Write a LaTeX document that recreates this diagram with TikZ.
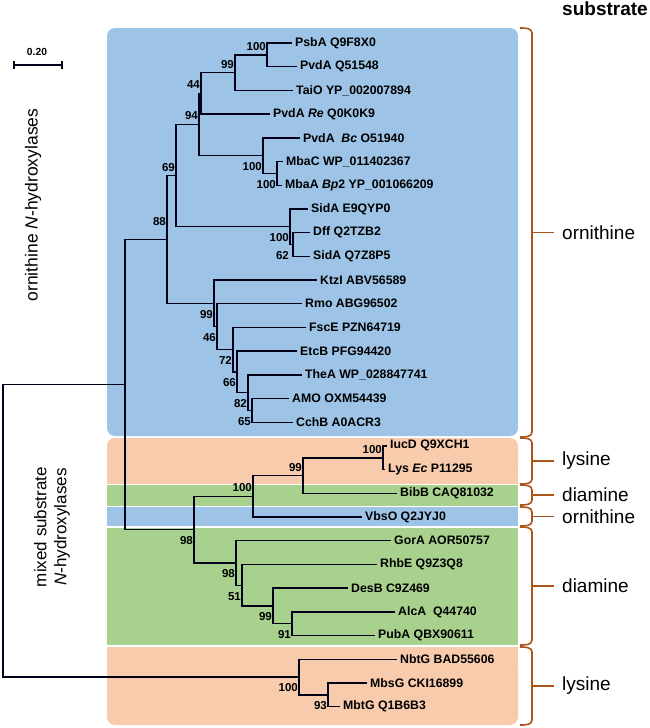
\documentclass[tikz,border=0pt]{standalone}
\usepackage{fontspec}
\setmainfont{Liberation Sans}
\usepackage{tikz}
\usetikzlibrary{positioning}

\definecolor{ornblue}{RGB}{157,195,230}
\definecolor{lyspeach}{RGB}{248,203,173}
\definecolor{diagreen}{RGB}{169,209,142}
\definecolor{bracebrown}{RGB}{172,84,26}

\newcommand{\subbrace}[4]{%
	\draw[brc] (520,#1) to[out=0,in=90] (532,#1+5) -- (532,#2-5) to[out=-90,in=0] (520,#2);
	\node[subst] (#3) at (554,{(#1+#2)/2}) {#4};
	\draw[brc] (532,{(#1+#2)/2}) -- (#3.west);
}

\begin{document}
\begin{tikzpicture}[x=1pt,y=-1pt,
		taxon/.style={anchor=west,inner xsep=3pt,inner ysep=0pt,font=\fontsize{12.3}{14}\selectfont\bfseries},
		bsup/.style={anchor=east,inner sep=1pt,yshift=8.5pt,font=\fontsize{11.5}{13}\selectfont\bfseries},
		bsdn/.style={anchor=east,inner sep=1pt,yshift=-11pt,font=\fontsize{11.5}{13}\selectfont\bfseries},
		treeline/.style={draw=black!90!blue,line width=1.4pt},
		subst/.style={anchor=west,inner xsep=8pt,inner ysep=0pt,font=\fontsize{19}{22}\selectfont},
		brc/.style={draw=bracebrown,line width=1.6pt}]
	\useasboundingbox (0,0) rectangle (649,728);

	\fill[ornblue,rounded corners=8pt] (107,28) rectangle (518,436);
	\fill[lyspeach,rounded corners=8pt] (107,438) rectangle (518,475);
	\fill[lyspeach] (107,455) rectangle (518,484);
	\fill[diagreen] (107,485.3) rectangle (518,505.5);
	\fill[ornblue] (107,507) rectangle (518,526);
	\fill[diagreen] (107,527.5) rectangle (518,645);
	\fill[lyspeach] (107,646.5) rectangle (518,690);
	\fill[lyspeach,rounded corners=8pt] (107,660) rectangle (518,725);

	\node[taxon] (psb) at (292,43) {PsbA Q9F8X0};
	\node[taxon] (pvd) at (297,66.7) {PvdA Q51548};
	\node[taxon] (tai) at (293,90.4) {TaiO YP\_002007894};
	\node[taxon] (pvdre) at (270,114.1) {PvdA \textit{Re} Q0K0K9};
	\node[taxon] (pvdbc) at (300,137.8) {PvdA\ \ \textit{Bc} O51940};
	\node[taxon] (mbac) at (283,161.5) {MbaC WP\_011402367};
	\node[taxon] (mbaa) at (282,185.2) {MbaA \textit{Bp}2 YP\_001066209};
	\node[taxon] (sida) at (308,208.9) {SidA E9QYP0};
	\node[taxon] (dff) at (310,232.6) {Dff Q2TZB2};
	\node[taxon] (sidb) at (310,256.3) {SidA Q7Z8P5};
	\node[taxon] (ktz) at (317,280) {KtzI ABV56589};
	\node[taxon] (rmo) at (302,303.7) {Rmo ABG96502};
	\node[taxon] (fsc) at (306,327.4) {FscE PZN64719};
	\node[taxon] (etc) at (297,351.1) {EtcB PFG94420};
	\node[taxon] (the) at (302,374.8) {TheA WP\_028847741};
	\node[taxon] (amo) at (289,398.5) {AMO OXM54439};
	\node[taxon] (cch) at (293,422.2) {CchB A0ACR3};
	\node[taxon] (iuc) at (387,445.9) {IucD Q9XCH1};
	\node[taxon] (lys) at (385,469.6) {Lys \textit{Ec} P11295};
	\node[taxon] (bib) at (397,493.3) {BibB CAQ81032};
	\node[taxon] (vbs) at (362,517) {VbsO Q2JYJ0};
	\node[taxon] (gor) at (391,540.7) {GorA AOR50757};
	\node[taxon] (rhb) at (377,564.4) {RhbE Q9Z3Q8};
	\node[taxon] (des) at (348,588.1) {DesB C9Z469};
	\node[taxon] (alc) at (395,611.8) {AlcA\ \ Q44740};
	\node[taxon] (pub) at (375,635.5) {PubA QBX90611};
	\node[taxon] (nbt) at (397,659.2) {NbtG BAD55606};
	\node[taxon] (mbs) at (367,682.9) {MbsG CKI16899};
	\node[taxon] (mbt) at (340,706.6) {MbtG Q1B6B3};

	\coordinate (npsb) at (267,54.9);
	\coordinate (ntai) at (235,72.7);
	\coordinate (n44) at (201,93.4);
	\coordinate (nmba) at (277,173.4);
	\coordinate (nbc) at (263,155.6);
	\coordinate (n94) at (199,124.5);
	\coordinate (n62) at (293,244.5);
	\coordinate (nsid) at (290,226.7);
	\coordinate (n69) at (176,175.6);
	\coordinate (n65) at (252,410.4);
	\coordinate (n82) at (248,392.6);
	\coordinate (n66) at (237,371.9);
	\coordinate (n72) at (233,349.7);
	\coordinate (n46) at (217,326.7);
	\coordinate (nktz) at (214,303.4);
	\coordinate (n88) at (167,239.5);
	\coordinate (niuc) at (383,457.8);
	\coordinate (nbib) at (303,475.6);
	\coordinate (nvbs) at (253,496.3);
	\coordinate (n91) at (292,623.7);
	\coordinate (ndes) at (273,605.9);
	\coordinate (n51) at (242,585.2);
	\coordinate (ngor) at (236,563);
	\coordinate (n98) at (194,529.7);
	\coordinate (nmix) at (125,384.6);
	\coordinate (n93) at (328,694.8);
	\coordinate (nnbt) at (299,677);
	\coordinate (nroot) at (3,530.8);

	\draw[treeline] (psb.west) -| (npsb) |- (pvd.west);
	\draw[treeline] (npsb) -| (ntai) |- (tai.west);
	\draw[treeline] (ntai) -| (n44) |- (pvdre.west);
	\draw[treeline] (mbac.west) -| (nmba) |- (mbaa.west);
	\draw[treeline] (pvdbc.west) -| (nbc) |- (nmba);
	\draw[treeline] (n44) -| (n94) |- (nbc);
	\draw[treeline] (dff.west) -| (n62) |- (sidb.west);
	\draw[treeline] (sida.west) -| (nsid) |- (n62);
	\draw[treeline] (n94) -| (n69) |- (nsid);
	\draw[treeline] (amo.west) -| (n65) |- (cch.west);
	\draw[treeline] (the.west) -| (n82) |- (n65);
	\draw[treeline] (etc.west) -| (n66) |- (n82);
	\draw[treeline] (fsc.west) -| (n72) |- (n66);
	\draw[treeline] (rmo.west) -| (n46) |- (n72);
	\draw[treeline] (ktz.west) -| (nktz) |- (n46);
	\draw[treeline] (n69) -| (n88) |- (nktz);
	\draw[treeline] (iuc.west) -| (niuc) |- (lys.west);
	\draw[treeline] (niuc) -| (nbib) |- (bib.west);
	\draw[treeline] (nbib) -| (nvbs) |- (vbs.west);
	\draw[treeline] (alc.west) -| (n91) |- (pub.west);
	\draw[treeline] (des.west) -| (ndes) |- (n91);
	\draw[treeline] (rhb.west) -| (n51) |- (ndes);
	\draw[treeline] (gor.west) -| (ngor) |- (n51);
	\draw[treeline] (nvbs) -| (n98) |- (ngor);
	\draw[treeline] (n88) -| (nmix) |- (n98);
	\draw[treeline] (mbs.west) -| (n93) |- (mbt.west);
	\draw[treeline] (nbt.west) -| (nnbt) |- (n93);
	\draw[treeline] (nmix) -| (nroot) |- (nnbt);

	\node[bsup] (bpsb) at (npsb) {100};
	\node[bsup] (btai) at (ntai) {99};
	\node[bsup] (b44) at (n44) {44};
	\node[bsup] (b94) at (n94) {94};
	\node[bsdn] (bbc) at (nbc) {100};
	\node[bsdn] (bmba) at (nmba) {100};
	\node[bsup] (b69) at (n69) {69};
	\node[bsup,yshift=9pt] (b88) at (n88) {88};
	\node[bsdn] (bsid) at (nsid) {100};
	\node[bsdn,xshift=-3pt] (b62) at (n62) {62};
	\node[bsdn] (bktz) at (nktz) {99};
	\node[bsdn] (b46) at (n46) {46};
	\node[bsdn] (b72) at (n72) {72};
	\node[bsdn] (b66) at (n66) {66};
	\node[bsdn] (b82) at (n82) {82};
	\node[bsdn] (b65) at (n65) {65};
	\node[bsup] (biuc) at (niuc) {100};
	\node[bsup] (bbib) at (nbib) {99};
	\node[bsup] (bvbs) at (nvbs) {100};
	\node[bsdn] (b98) at (n98) {98};
	\node[bsdn] (bgor) at (ngor) {98};
	\node[bsdn] (b51) at (n51) {51};
	\node[bsdn] (bdes) at (ndes) {99};
	\node[bsdn] (b91) at (n91) {91};
	\node[bsdn] (bnbt) at (nnbt) {100};
	\node[bsdn] (b93) at (n93) {93};

	\node[font=\fontsize{10.3}{12}\selectfont\bfseries] (scl) at (37,52) {0.20};
	\draw[treeline,line width=1.2pt] (14,65) -- (62,65);
	\draw[treeline,line width=1.2pt] (14,61) -- (14,69);
	\draw[treeline,line width=1.2pt] (62,61) -- (62,69);

	\node[rotate=90,font=\fontsize{17.5}{20}\selectfont] (ornlbl) at (33,205) {ornithine \textit{N}-hydroxylases};
	\node[rotate=90,align=center,font=\fontsize{17}{20}\selectfont] (mixlbl) at (52,527) {mixed substrate\\\textit{N}-hydroxylases};

	\node[font=\fontsize{19}{22}\selectfont\bfseries] (hdr) at (605,9) {substrate};
	\subbrace{28}{437}{sorn}{ornithine}
	\subbrace{438}{484}{slys}{lysine}
	\subbrace{485}{505}{sdia}{diamine}
	\subbrace{507}{526}{sorb}{ornithine}
	\subbrace{527}{645}{sdib}{diamine}
	\subbrace{647}{725}{slyb}{lysine}
\end{tikzpicture}
\end{document}
